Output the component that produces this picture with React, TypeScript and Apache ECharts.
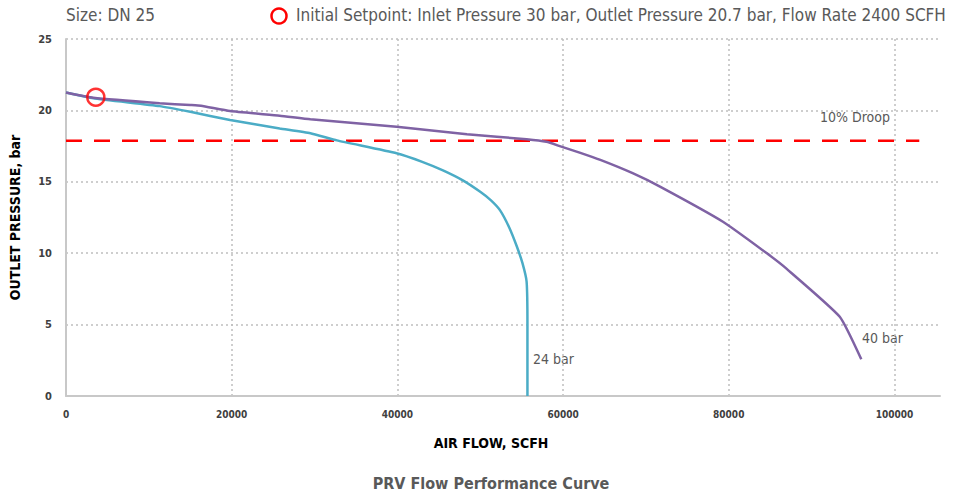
import React, { useEffect, useRef } from "react";
import * as echarts from "echarts";

const xTicks = [0, 20000, 40000, 60000, 80000, 100000];
const yTicks = [0, 5, 10, 15, 20, 25];

const flow24 = [0, 3300, 11300, 15000, 19800, 25800, 29500, 32700, 39900, 43000, 45500, 47900, 50000, 51300, 52400, 53500, 54400, 55100, 55600, 55700, 55700];
const pressure24 = [21.25, 20.85, 20.3, 19.9, 19.33, 18.74, 18.4, 17.9, 17.0, 16.4, 15.8, 15.1, 14.3, 13.7, 13.0, 11.8, 10.5, 9.3, 8.0, 5.0, 0];

const flow40 = [0, 3300, 11300, 15000, 16300, 19800, 25800, 29500, 39900, 48400, 55600, 58000, 59600, 62000, 64500, 68400, 71700, 79300, 84600, 87000, 93400, 96000];
const pressure40 = [21.25, 20.88, 20.5, 20.38, 20.33, 19.96, 19.63, 19.38, 18.86, 18.33, 17.98, 17.8, 17.5, 17.04, 16.53, 15.6, 14.66, 12.2, 9.99, 8.9, 5.55, 2.57];

const droopFlow = [0, 103000];
const droopPressure = [17.88, 17.88];

const setpointFlow = [3600];
const setpointPressure = [20.92];

const seriesNames = ["24 bar", "40 bar"];

const FONT = "'DejaVu Sans Condensed', 'Open Sans', sans-serif";

export default function App() {
  const ref = useRef<HTMLDivElement>(null);
  useEffect(() => {
    document.body.style.margin = "0";
    const chart = echarts.init(ref.current!, null, { renderer: "svg" });
    const zip = (a: number[], b: number[]) => a.map((v, i) => [v, b[i]]);
    chart.setOption({
      animation: false,
      backgroundColor: "#ffffff",
      grid: { left: 66, right: 28, top: 39, bottom: 103 },
      xAxis: {
        type: "value",
        min: xTicks[0],
        max: 105500,
        interval: 20000,
        axisLine: { show: true, lineStyle: { color: "#c8c8c8", width: 2 } },
        axisTick: { show: false },
        axisLabel: {
          showMaxLabel: false,
          color: "#404040",
          fontWeight: "bold",
          fontSize: 10,
          fontFamily: FONT,
          margin: 13,
          formatter: (v: number) => String(v),
        },
        splitLine: { show: true, showMaxLine: false, lineStyle: { color: "#bfbfbf", type: [2, 3], width: 1.5 } },
      },
      yAxis: {
        type: "value",
        min: yTicks[0],
        max: yTicks[yTicks.length - 1],
        interval: 5,
        axisLine: { show: true, lineStyle: { color: "#c8c8c8", width: 2 } },
        axisTick: { show: false },
        axisLabel: {
          color: "#404040",
          fontWeight: "bold",
          fontSize: 11,
          fontFamily: FONT,
          margin: 14,
        },
        splitLine: { show: true, lineStyle: { color: "#bfbfbf", type: [2, 3], width: 1.5 } },
        name: "OUTLET PRESSURE, bar",
        nameLocation: "middle",
        nameGap: 44,
        nameTextStyle: { color: "#000", fontWeight: "bold", fontSize: 14, fontFamily: FONT },
      },
      series: [
        {
          name: "10% Droop",
          type: "line",
          data: zip(droopFlow, droopPressure),
          symbol: "none",
          lineStyle: { color: "#ff0000", width: 2.5, type: [16, 12] },
          z: 1,
        },
        {
          name: seriesNames[0],
          type: "line",
          data: zip(flow24, pressure24),
          symbol: "none",
          smooth: 0.15,
          lineStyle: { color: "#4bacc6", width: 2.5 },
          z: 2,
        },
        {
          name: seriesNames[1],
          type: "line",
          data: zip(flow40, pressure40),
          symbol: "none",
          smooth: 0.15,
          lineStyle: { color: "#7f62a4", width: 2.5 },
          z: 3,
        },
        {
          name: "Setpoint",
          type: "scatter",
          data: zip(setpointFlow, setpointPressure),
          symbol: "circle",
          symbolSize: 17,
          itemStyle: { color: "rgba(0,0,0,0)", borderColor: "#ff0000", borderWidth: 2.5 },
          z: 5,
        },
      ],
      graphic: [
        {
          type: "text",
          left: 66,
          top: 6,
          style: { text: "Size: DN 25", fill: "#595959", fontSize: 17, fontFamily: FONT },
        },
        {
          type: "circle",
          shape: { cx: 279, cy: 16, r: 7.5 },
          style: { fill: "none", stroke: "#ff0000", lineWidth: 2.5 },
        },
        {
          type: "text",
          left: 296,
          top: 6,
          style: {
            text: "Initial Setpoint: Inlet Pressure 30 bar, Outlet Pressure 20.7 bar, Flow Rate 2400 SCFH",
            fill: "#595959",
            fontSize: 17,
            fontFamily: FONT,
          },
        },
        {
          type: "text",
          left: 820,
          top: 110,
          style: { text: "10% Droop", fill: "#595959", fontSize: 14, fontFamily: FONT },
        },
        {
          type: "text",
          left: 533,
          top: 352,
          style: { text: seriesNames[0], fill: "#595959", fontSize: 14, fontFamily: FONT },
        },
        {
          type: "text",
          left: 862,
          top: 331,
          style: { text: seriesNames[1], fill: "#595959", fontSize: 14, fontFamily: FONT },
        },
        {
          type: "text",
          x: 491,
          y: 443,
          style: { text: "AIR FLOW, SCFH", fill: "#000", fontSize: 14, fontWeight: "bold", fontFamily: FONT, align: "center", verticalAlign: "middle" },
        },
        {
          type: "text",
          x: 491,
          y: 483,
          style: { text: "PRV Flow Performance Curve", fill: "#595959", fontSize: 16, fontWeight: "bold", fontFamily: FONT, align: "center", verticalAlign: "middle" },
        },
      ],
    });
    return () => chart.dispose();
  }, []);
  return <div ref={ref} style={{ width: 968, height: 499 }} />;
}
